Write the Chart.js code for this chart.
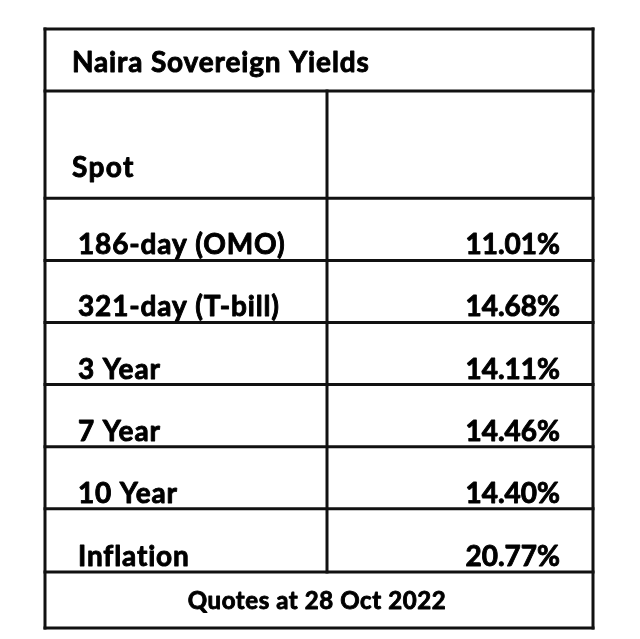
<!DOCTYPE html>
<html>
<head>
<meta charset="utf-8">
<script src="https://cdn.jsdelivr.net/npm/chart.js@4"></script>
<style>
  html, body { margin: 0; padding: 0; background: #fff; }
  #tabla { display: block; }
</style>
</head>
<body>
<canvas id="tabla" width="640" height="639"></canvas>
<script>
// Datos de la tabla
const titulo = "Naira Sovereign Yields";
const encabezado = "Spot";
const plazos = ["186-day (OMO)", "321-day (T-bill)", "3 Year", "7 Year", "10 Year", "Inflation"];
const rendimientos = [11.01, 14.68, 14.11, 14.46, 14.40, 20.77];
const nota = "Quotes at 28 Oct 2022";

// Alturas de fila (en unidades del eje y): titulo, spot, 6 filas, nota
const altosFila = [62, 107, 62, 62, 62, 62, 62, 63, 56];
const anchoTotal = 548;
const divisor = 282;

const fuente = "Lato, 'Open Sans', sans-serif";

const bordes = [0];
altosFila.forEach(function (h) { bordes.push(bordes[bordes.length - 1] + h); });

// texto un poco mas grueso que Lato Bold
function texto(ctx, t, x, y, espacio) {
    ctx.letterSpacing = espacio + "px";
    ctx.fillText(t, x, y);
    ctx.strokeText(t, x, y);
}

// Plugin que dibuja la tabla usando las escalas del grafico
const tablaPlugin = {
    id: "tabla",
    afterDraw: function (chart) {
        const ctx = chart.ctx;
        const x = chart.scales.x;
        const y = chart.scales.y;
        const px = function (v) { return x.getPixelForValue(v); };
        const py = function (v) { return y.getPixelForValue(v); };

        ctx.save();
        ctx.strokeStyle = "#111";
        ctx.lineWidth = 3;
        ctx.lineCap = "square";

        // lineas horizontales
        bordes.forEach(function (b) {
            ctx.beginPath();
            ctx.moveTo(px(0), py(b));
            ctx.lineTo(px(anchoTotal), py(b));
            ctx.stroke();
        });
        // bordes verticales
        [0, anchoTotal].forEach(function (v) {
            ctx.beginPath();
            ctx.moveTo(px(v), py(0));
            ctx.lineTo(px(v), py(bordes[bordes.length - 1]));
            ctx.stroke();
        });
        // divisor de columnas
        ctx.beginPath();
        ctx.moveTo(px(divisor), py(bordes[1]));
        ctx.lineTo(px(divisor), py(bordes[bordes.length - 2]));
        ctx.stroke();

        ctx.fillStyle = "#000";
        ctx.strokeStyle = "#000";
        ctx.lineWidth = 0.9;
        ctx.lineJoin = "round";
        ctx.textBaseline = "alphabetic";

        // titulo
        ctx.font = "bold 28px " + fuente;
        ctx.textAlign = "left";
        texto(ctx, titulo, px(27), py(bordes[1] - 19), 0.85);

        // encabezado
        texto(ctx, encabezado, px(27), py(bordes[2] - 21), 1.4);

        // filas
        plazos.forEach(function (p, i) {
            const base = py(bordes[i + 3] - 6);
            ctx.textAlign = "left";
            texto(ctx, p, px(33), base, 0.85);
            ctx.textAlign = "right";
            texto(ctx, rendimientos[i].toFixed(2) + "%", px(515), base, 0);
        });

        // nota
        ctx.font = "bold 24px " + fuente;
        ctx.textAlign = "center";
        texto(ctx, nota, px(272), py(bordes[bordes.length - 1] - 19), 0.6);
        ctx.restore();
    }
};

new Chart(document.getElementById("tabla").getContext("2d"), {
    type: "scatter",
    data: {
        datasets: [{
            label: titulo,
            data: rendimientos.map(function (v, i) { return { x: anchoTotal, y: bordes[i + 3] }; }),
            pointRadius: 0,
            showLine: false
        }]
    },
    options: {
        responsive: false,
        animation: false,
        devicePixelRatio: 1,
        layout: { padding: { left: 45, right: 47, top: 29, bottom: 11 } },
        plugins: {
            legend: { display: false },
            tooltip: { enabled: false }
        },
        scales: {
            x: { type: "linear", min: 0, max: anchoTotal, display: false },
            y: { type: "linear", min: 0, max: bordes[bordes.length - 1], reverse: true, display: false }
        }
    },
    plugins: [tablaPlugin]
});
</script>
</body>
</html>
